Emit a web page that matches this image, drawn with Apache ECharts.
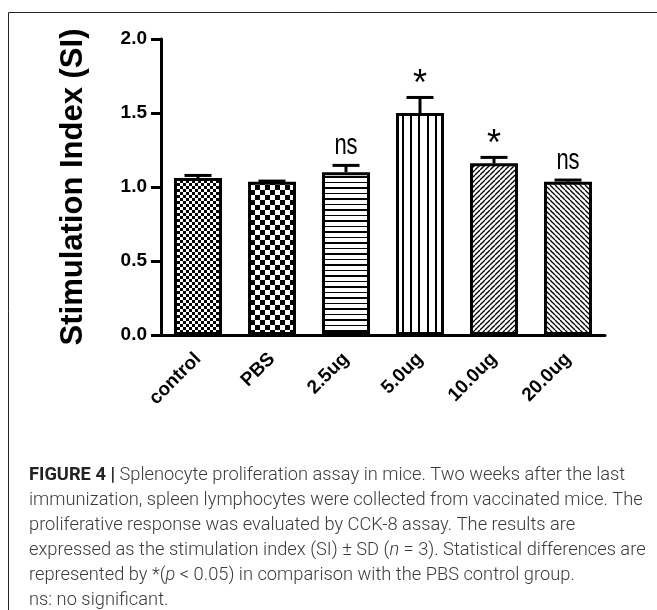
<!DOCTYPE html>
<html>
<head>
<meta charset="utf-8">
<script src="https://cdn.jsdelivr.net/npm/echarts@6/dist/echarts.min.js"></script>
<style>
  html, body { margin: 0; padding: 0; background: #fff; }
  #chart { width: 657px; height: 610px; }
</style>
</head>
<body>
<div id="chart"></div>
<script>
// data
const categories = ['control', 'PBS', '2.5ug', '5.0ug', '10.0ug', '20.0ug'];
const siMean = [1.06, 1.035, 1.10, 1.50, 1.16, 1.035];
const siSD = [0.018, 0.005, 0.046, 0.105, 0.04, 0.012];
const sigLabels = ['', '', 'ns', '*', '*', 'ns'];
const captionLines = [
  '{b|FIGURE 4 |} Splenocyte proliferation assay in mice. Two weeks after the last',
  'immunization, spleen lymphocytes were collected from vaccinated mice. The',
  'proliferative response was evaluated by CCK-8 assay. The results are',
  'expressed as the stimulation index (SI) \u00b1 SD ({i|n} = 3). Statistical differences are',
  'represented by *({i|p} < 0.05) in comparison with the PBS control group.',
  'ns: no significant.'
];

const FONT = "'Liberation Sans', Arial, sans-serif";
const CAP_SIZE = 18.3;

// hatch fills, GraphPad style
function pattern(w, h, draw) {
  const c = document.createElement('canvas');
  c.width = w;
  c.height = h;
  const ctx = c.getContext('2d');
  ctx.fillStyle = '#fff';
  ctx.fillRect(0, 0, w, h);
  ctx.fillStyle = '#000';
  ctx.strokeStyle = '#000';
  draw(ctx, w, h);
  return { image: c, repeat: 'repeat' };
}

const fills = [
  pattern(6, 6, (ctx) => { ctx.fillRect(0, 0, 3, 3); ctx.fillRect(3, 3, 3, 3); }),
  pattern(10, 10, (ctx) => { ctx.fillRect(0, 0, 5, 5); ctx.fillRect(5, 5, 5, 5); }),
  pattern(4, 11, (ctx) => { ctx.fillRect(0, 0, 4, 2); ctx.fillRect(0, 6, 4, 1); }),
  pattern(25, 4, (ctx) => { ctx.fillRect(2, 0, 2, 4); ctx.fillRect(10, 0, 2, 4); ctx.fillRect(18, 0, 2, 4); }),
  pattern(5, 5, (ctx, s) => {
    ctx.lineWidth = 1.3;
    for (let k = -1; k <= 1; k++) {
      ctx.beginPath(); ctx.moveTo(k * s, s); ctx.lineTo(k * s + s, 0); ctx.stroke();
    }
  }),
  pattern(5, 5, (ctx, s) => {
    ctx.lineWidth = 1.3;
    for (let k = -1; k <= 1; k++) {
      ctx.beginPath(); ctx.moveTo(k * s, 0); ctx.lineTo(k * s + s, s); ctx.stroke();
    }
  })
];

const chart = echarts.init(document.getElementById('chart'), null, { renderer: 'canvas' });

const option = {
  backgroundColor: '#fff',
  animation: false,
  grid: { left: 161, right: 52, top: 39, bottom: 275 },
  xAxis: {
    type: 'category',
    data: categories,
    axisLine: { lineStyle: { color: '#000', width: 3 } },
    axisTick: { alignWithLabel: true, length: 10, lineStyle: { color: '#000', width: 3 } },
    axisLabel: {
      rotate: 45, margin: 21, color: '#000',
      fontSize: 19, fontWeight: 'bold', fontFamily: FONT
    }
  },
  yAxis: {
    type: 'value',
    min: 0, max: 2, interval: 0.5,
    name: 'Stimulation Index (SI)',
    nameLocation: 'middle',
    nameGap: 72,
    nameTextStyle: { color: '#000', fontSize: 31, fontWeight: 'bold', fontFamily: FONT },
    axisLine: { show: true, lineStyle: { color: '#000', width: 3 } },
    axisTick: { show: true, length: 10, lineStyle: { color: '#000', width: 3 } },
    axisLabel: {
      margin: 14, color: '#000', fontSize: 19, fontWeight: 'bold', fontFamily: FONT,
      formatter: (v) => v.toFixed(1)
    },
    splitLine: { show: false }
  },
  series: [
    {
      type: 'bar',
      barWidth: 48,
      data: siMean.map((v, i) => ({
        value: v,
        itemStyle: { color: fills[i], borderColor: '#000', borderWidth: 3 }
      })),
      z: 2
    },
    {
      type: 'custom',
      data: siMean.map((v, i) => [i, v, siSD[i]]),
      z: 3,
      renderItem: function (params, api) {
        const m = api.value(1);
        const sd = api.value(2);
        const base = api.coord([api.value(0), m]);
        const top = api.coord([api.value(0), m + sd]);
        const children = [
          { type: 'line', shape: { x1: base[0], y1: base[1], x2: top[0], y2: top[1] },
            style: { stroke: '#000', lineWidth: 3 } },
          { type: 'line', shape: { x1: top[0] - 13.5, y1: top[1], x2: top[0] + 13.5, y2: top[1] },
            style: { stroke: '#000', lineWidth: 3 } }
        ];
        const lbl = sigLabels[params.dataIndex];
        if (lbl === 'ns') {
          children.push({
            type: 'text', x: top[0], y: top[1] - 5, scaleY: 1.3,
            style: { text: lbl, fill: '#000', font: '22px ' + FONT, align: 'center', verticalAlign: 'bottom' }
          });
        } else if (lbl) {
          children.push({
            type: 'text', x: top[0], y: top[1] + 6,
            style: { text: lbl, fill: '#000', font: '36px ' + FONT, align: 'center', verticalAlign: 'bottom' }
          });
        }
        return { type: 'group', children: children };
      }
    }
  ],
  graphic: [
    {
      type: 'polyline',
      shape: { points: [[8.5, 610], [8.5, 12.5], [657, 12.5]] },
      style: { stroke: '#222', lineWidth: 1, fill: null }
    }
  ].concat(captionLines.map((t, i) => ({
    type: 'text',
    x: 29,
    y: 475 + i * 25,
    style: {
      text: t,
      fill: '#3a3a3a',
      font: '300 ' + CAP_SIZE + 'px Roboto, ' + FONT,
      verticalAlign: 'middle',
      rich: {
        b: { fontWeight: 'bold', fill: '#222', fontSize: CAP_SIZE, fontFamily: 'Roboto' },
        i: { fontStyle: 'italic', fill: '#3a3a3a', fontSize: CAP_SIZE, fontFamily: 'Roboto', fontWeight: 300 }
      }
    }
  })))
};

chart.setOption(option);
</script>
</body>
</html>
